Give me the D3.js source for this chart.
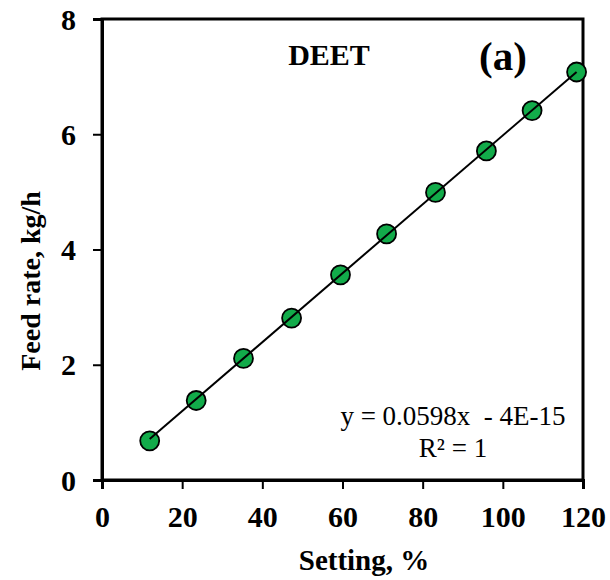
<!DOCTYPE html>
<html>
<head>
<meta charset="utf-8">
<script src="https://cdn.jsdelivr.net/npm/d3@7"></script>
<style>
  html, body { margin: 0; padding: 0; background: #fff; }
  svg text { font-family: "Liberation Serif", "Times New Roman", serif; }
</style>
</head>
<body>
<svg id="chart" width="610" height="580"></svg>
<script>
// Feeder calibration: setting (%) vs. measured feed rate (kg/h)
const settings = [11.9, 23.5, 35.3, 47.3, 59.5, 71.0, 83.2, 95.9, 107.3, 118.4];
const feedRates = [0.68, 1.38, 2.11, 2.81, 3.56, 4.27, 4.99, 5.71, 6.41, 7.08];
const xTicks = [0, 20, 40, 60, 80, 100, 120];
const yTicks = [0, 2, 4, 6, 8];
const fitSlope = 0.0598;
const fitIntercept = -4e-15;
const fitLabel = "y = 0.0598x  - 4E-15";
const r2Label = "R\u00B2 = 1";
const seriesName = "DEET";
const panelTag = "(a)";

const svg = d3.select("#chart");
const plotL = 102, plotR = 583, plotT = 19, plotB = 480;

const x = d3.scaleLinear().domain([0, 120]).range([plotL, plotR]);
const y = d3.scaleLinear().domain([0, 8]).range([plotB, plotT]);

// frame
svg.append("rect")
  .attr("x", plotL).attr("y", plotT)
  .attr("width", plotR - plotL).attr("height", plotB - plotT)
  .attr("fill", "none").attr("stroke", "#000").attr("stroke-width", 3);

// axes
const xAxis = svg.append("g")
  .attr("transform", `translate(0,${plotB})`)
  .call(d3.axisBottom(x).tickValues(xTicks).tickSize(9).tickPadding(17).tickFormat(d3.format("d")));
const yAxis = svg.append("g")
  .attr("transform", `translate(${plotL},0)`)
  .call(d3.axisLeft(y).tickValues(yTicks).tickSize(9).tickPadding(17).tickFormat(d3.format("d")));

[xAxis, yAxis].forEach(g => {
  g.select(".domain").attr("stroke", "#000").attr("stroke-width", 3);
  g.selectAll(".tick line").attr("stroke", "#000").attr("stroke-width", 2);
  g.selectAll(".tick text")
    .attr("fill", "#000")
    .style("font-family", "'Liberation Serif', 'Times New Roman', serif")
    .style("font-weight", "bold")
    .style("font-size", "30px");
});
xAxis.selectAll(".tick text").attr("dy", "0.71em");
yAxis.selectAll(".tick text").attr("dy", "0.34em");

// markers
svg.append("g").selectAll("circle")
  .data(settings.map((s, i) => [s, feedRates[i]]))
  .join("circle")
  .attr("cx", d => x(d[0]))
  .attr("cy", d => y(d[1]))
  .attr("r", 9.5)
  .attr("fill", "#12ab4a")
  .attr("stroke", "#000")
  .attr("stroke-width", 1.8);

// linear trendline over the data range
const xMin = d3.min(settings), xMax = d3.max(settings);
svg.append("line")
  .attr("x1", x(xMin)).attr("y1", y(fitSlope * xMin + fitIntercept))
  .attr("x2", x(xMax)).attr("y2", y(fitSlope * xMax + fitIntercept))
  .attr("stroke", "#000").attr("stroke-width", 2);

// annotations
svg.append("text")
  .attr("x", 329).attr("y", 65)
  .attr("text-anchor", "middle")
  .style("font-weight", "bold").style("font-size", "30px")
  .text(seriesName);
svg.append("text")
  .attr("x", 503).attr("y", 70)
  .attr("text-anchor", "middle")
  .style("font-weight", "bold").style("font-size", "41px")
  .text(panelTag);

svg.append("text")
  .attr("x", 453).attr("y", 425)
  .attr("text-anchor", "middle")
  .style("font-size", "27px")
  .style("white-space", "pre")
  .text(fitLabel);
svg.append("text")
  .attr("x", 453).attr("y", 457)
  .attr("text-anchor", "middle")
  .style("font-size", "27px")
  .text(r2Label);

// axis titles
svg.append("text")
  .attr("x", 364).attr("y", 570)
  .attr("text-anchor", "middle")
  .style("font-weight", "bold").style("font-size", "29px")
  .text("Setting, %");
svg.append("text")
  .attr("transform", "translate(40,281) rotate(-90)")
  .attr("text-anchor", "middle")
  .style("font-weight", "bold").style("font-size", "28px")
  .text("Feed rate, kg/h");
</script>
</body>
</html>
